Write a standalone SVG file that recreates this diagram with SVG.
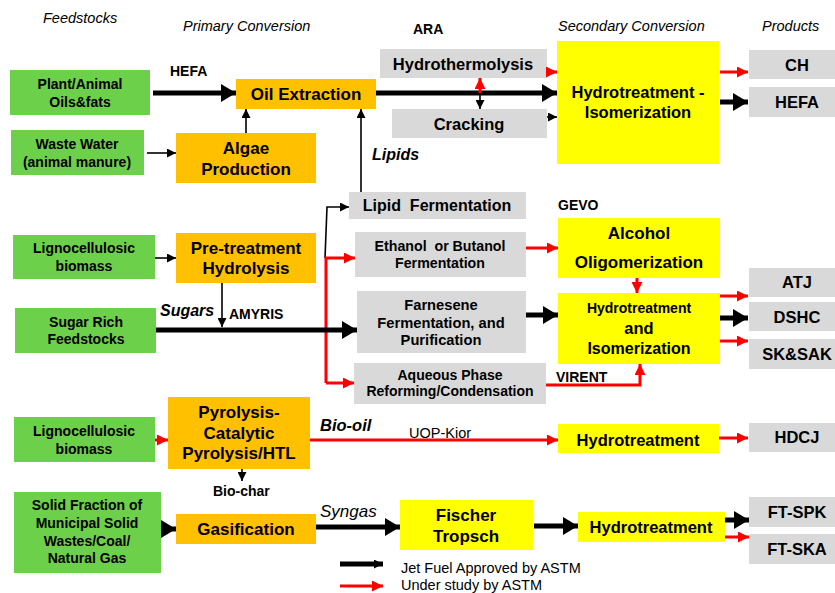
<svg xmlns="http://www.w3.org/2000/svg" width="835" height="593" viewBox="0 0 835 593">
<style>
text{font-family:"Liberation Sans",Arial,sans-serif;fill:#000}
.b{font-weight:bold}
.c{text-anchor:middle;font-weight:bold}
.hd{font-style:italic;font-size:14.5px}
.g{fill:#6dd04a}
.o{fill:#ffc000}
.y{fill:#ffff00}
.gr{fill:#d9d9d9}
.tk{stroke:#000;stroke-width:5;fill:none}
.tn{stroke:#000;stroke-width:1.6;fill:none}
.rd{stroke:#ff0000;stroke-width:3;fill:none}
</style>
<defs>
<marker id="bk" markerUnits="userSpaceOnUse" markerWidth="15" markerHeight="18" refX="15" refY="9" orient="auto"><path d="M0,0 L15,9 L0,18 z" fill="#000"/></marker>
<marker id="bs" markerUnits="userSpaceOnUse" markerWidth="9" markerHeight="9" refX="9" refY="4.5" orient="auto"><path d="M0,0 L9,4.5 L0,9 z" fill="#000"/></marker>
<marker id="rs" markerUnits="userSpaceOnUse" markerWidth="11" markerHeight="11" refX="11" refY="5.5" orient="auto"><path d="M0,0 L11,5.5 L0,11 z" fill="#ff0000"/></marker>
</defs>
<rect width="835" height="593" fill="#fff"/>

<!-- headers -->
<text class="hd" x="43" y="23">Feedstocks</text>
<text class="hd" x="183" y="31">Primary Conversion</text>
<text class="hd" x="558" y="31">Secondary Conversion</text>
<text class="hd" x="762" y="31">Products</text>

<!-- labels -->
<g id="labels" font-size="14">
<text class="b" x="413" y="34">ARA</text>
<text class="b" x="170" y="76">HEFA</text>
<text class="b" x="372" y="160" font-style="italic" font-size="16">Lipids</text>
<text class="b" x="558" y="210">GEVO</text>
<text class="b" x="160" y="316" font-style="italic" font-size="16">Sugars</text>
<text class="b" x="229" y="319">AMYRIS</text>
<text class="b" x="556" y="382">VIRENT</text>
<text class="b" x="320" y="431" font-style="italic" font-size="16.5">Bio-oil</text>
<text x="409" y="438" font-size="14.5">UOP-Kior</text>
<text class="b" x="213" y="496">Bio-char</text>
<text x="320" y="517" font-style="italic" font-size="17">Syngas</text>
<text x="401" y="573" font-size="14.5">Jet Fuel Approved by ASTM</text>
<text x="401" y="590" font-size="14.5">Under study by ASTM</text>
</g>

<!-- feedstocks -->
<g id="plant" font-size="14"><rect class="g" x="10" y="70" width="140" height="45"/><text class="c" x="80" y="89">Plant/Animal</text><text class="c" x="80" y="107">Oils&amp;fats</text></g>
<g id="waste" font-size="14"><rect class="g" x="11" y="130" width="133" height="45"/><text class="c" x="77" y="149">Waste Water</text><text class="c" x="77" y="167">(animal manure)</text></g>
<g id="ligno1" font-size="14"><rect class="g" x="13" y="235" width="142" height="44"/><text class="c" x="84" y="253">Lignocellulosic</text><text class="c" x="84" y="271">biomass</text></g>
<g id="sugar" font-size="14"><rect class="g" x="15" y="308" width="141" height="45"/><text class="c" x="86" y="327">Sugar Rich</text><text class="c" x="86" y="344">Feedstocks</text></g>
<g id="ligno2" font-size="14"><rect class="g" x="14" y="417" width="141" height="45"/><text class="c" x="84" y="436">Lignocellulosic</text><text class="c" x="84" y="454">biomass</text></g>
<g id="solid" font-size="14"><rect class="g" x="14" y="492" width="147" height="81"/><text class="c" x="87" y="510">Solid Fraction of</text><text class="c" x="87" y="528">Municipal Solid</text><text class="c" x="87" y="546">Wastes/Coal/</text><text class="c" x="87" y="563">Natural Gas</text></g>

<!-- primary -->
<g id="oilext" font-size="17"><rect class="o" x="236" y="79" width="140" height="30"/><text class="c" x="306" y="100">Oil Extraction</text></g>
<g id="algae" font-size="17"><rect class="o" x="176" y="133" width="140" height="50"/><text class="c" x="246" y="154">Algae</text><text class="c" x="246" y="175">Production</text></g>
<g id="pretreat" font-size="17"><rect class="o" x="176" y="233" width="140" height="50"/><text class="c" x="246" y="254">Pre-treatment</text><text class="c" x="246" y="274">Hydrolysis</text></g>
<g id="pyro" font-size="17"><rect class="o" x="168" y="397" width="142" height="72"/><text class="c" x="239" y="418">Pyrolysis-</text><text class="c" x="239" y="439">Catalytic</text><text class="c" x="239" y="459">Pyrolysis/HTL</text></g>
<g id="gasif" font-size="17"><rect class="o" x="176" y="514" width="140" height="30"/><text class="c" x="246" y="535">Gasification</text></g>

<!-- gray intermediates -->
<g id="hydrothermo" font-size="16.5"><rect class="gr" x="380" y="49" width="167" height="29"/><text class="c" x="463" y="70">Hydrothermolysis</text></g>
<g id="cracking" font-size="16.5"><rect class="gr" x="392" y="109" width="155" height="29"/><text class="c" x="469" y="130">Cracking</text></g>
<g id="lipidferm" font-size="16"><rect class="gr" x="349" y="192" width="177" height="27"/><text class="c" x="437" y="211" xml:space="preserve">Lipid  Fermentation</text></g>
<g id="ethanol" font-size="14.2"><rect class="gr" x="355" y="232" width="171" height="45"/><text class="c" x="440" y="251" xml:space="preserve">Ethanol  or Butanol</text><text class="c" x="440" y="268">Fermentation</text></g>
<g id="farnesene" font-size="14.7"><rect class="gr" x="357" y="291" width="169" height="62"/><text class="c" x="441" y="310">Farnesene</text><text class="c" x="441" y="328">Fermentation, and</text><text class="c" x="441" y="345">Purification</text></g>
<g id="aqueous" font-size="14"><rect class="gr" x="354" y="363" width="192" height="41"/><text class="c" x="450" y="380">Aqueous Phase</text><text class="c" x="450" y="396">Reforming/Condensation</text></g>

<!-- secondary -->
<g id="hi" font-size="16.5"><rect class="y" x="557" y="41" width="162" height="123"/><text class="c" x="638" y="98">Hydrotreatment -</text><text class="c" x="638" y="118">Isomerization</text></g>
<g id="alcohol" font-size="17"><rect class="y" x="558" y="218" width="162" height="60"/><text class="c" x="639" y="239">Alcohol</text><text class="c" x="639" y="268">Oligomerization</text></g>
<g id="hai"><rect class="y" x="558" y="293" width="162" height="71"/><text class="c" x="639" y="313" font-size="14">Hydrotreatment</text><text class="c" x="639" y="334" font-size="16.5">and</text><text class="c" x="639" y="354" font-size="16">Isomerization</text></g>
<g id="ht1" font-size="16.5"><rect class="y" x="558" y="424" width="161" height="29"/><text class="c" x="638" y="446">Hydrotreatment</text></g>
<g id="fischer" font-size="17"><rect class="y" x="400" y="500" width="133" height="50"/><text class="c" x="466" y="521">Fischer</text><text class="c" x="466" y="542">Tropsch</text></g>
<g id="ht2" font-size="16.5"><rect class="y" x="578" y="512" width="147" height="30"/><text class="c" x="651" y="533">Hydrotreatment</text></g>

<!-- products -->
<g id="p-ch" font-size="16.5"><rect class="gr" x="749" y="50" width="86" height="29"/><text class="c" x="797" y="71">CH</text></g>
<g id="p-hefa" font-size="16.5"><rect class="gr" x="749" y="87" width="86" height="30"/><text class="c" x="797" y="108">HEFA</text></g>
<g id="p-atj" font-size="16.5"><rect class="gr" x="749" y="268" width="86" height="29"/><text class="c" x="797" y="288">ATJ</text></g>
<g id="p-dshc" font-size="16.5"><rect class="gr" x="749" y="302" width="86" height="29"/><text class="c" x="797" y="323">DSHC</text></g>
<g id="p-sk" font-size="16.5"><rect class="gr" x="749" y="339" width="86" height="30"/><text class="c" x="797" y="360">SK&amp;SAK</text></g>
<g id="p-hdcj" font-size="16.5"><rect class="gr" x="749" y="423" width="86" height="29"/><text class="c" x="797" y="443">HDCJ</text></g>
<g id="p-ftspk" font-size="16.5"><rect class="gr" x="749" y="497" width="86" height="30"/><text class="c" x="797" y="518">FT-SPK</text></g>
<g id="p-ftska" font-size="16.5"><rect class="gr" x="749" y="534" width="86" height="30"/><text class="c" x="797" y="555">FT-SKA</text></g>

<!-- connectors -->
<g id="connectors">
<path class="tk" d="M153,93 H236" marker-end="url(#bk)"/>
<path class="tn" d="M147,153 H176" marker-end="url(#bs)"/>
<path class="tn" d="M246,133 V109" marker-end="url(#bs)"/>
<path class="tk" d="M376,93 H557" marker-end="url(#bk)"/>
<path class="tn" d="M480,93 V109" stroke-width="2" marker-end="url(#bs)"/>
<path class="rd" d="M480,93 V78" stroke-width="2" marker-end="url(#rs)"/>
<path class="rd" d="M547,72 H557" marker-end="url(#rs)"/>
<path class="tn" d="M547,117 H557" stroke-width="2" marker-end="url(#bs)"/>
<path class="tn" d="M361,192 V109" marker-end="url(#bs)"/>
<path class="rd" d="M720,72 H748" marker-end="url(#rs)"/>
<path class="tk" d="M720,102 H748" marker-end="url(#bk)"/>

<path class="tn" d="M155,258 H176" marker-end="url(#bs)"/>
<path class="tn" d="M222,283 V327" marker-end="url(#bs)"/>
<path class="tn" d="M325,258 L327,207 H349" marker-end="url(#bs)"/>
<path class="rd" d="M326,383 V258 H355" marker-end="url(#rs)"/>
<path class="rd" d="M326,383 H354" marker-end="url(#rs)"/>
<path class="tk" d="M156,330 H357" marker-end="url(#bk)"/>
<path class="rd" d="M526,248 H558" marker-end="url(#rs)"/>
<path class="rd" d="M637,278 V293" stroke-width="2" marker-end="url(#rs)"/>
<path class="tk" d="M526,315 H558" marker-end="url(#bk)"/>
<path class="rd" d="M546,385 H640 V364" marker-end="url(#rs)"/>
<path class="rd" d="M720,296 H748" marker-end="url(#rs)"/>
<path class="tk" d="M720,318 H748" marker-end="url(#bk)"/>
<path class="rd" d="M720,341 H748" marker-end="url(#rs)"/>

<path class="rd" d="M155,440 H168" marker-end="url(#rs)"/>
<path class="rd" d="M310,440 H558" marker-end="url(#rs)"/>
<path class="tn" d="M242,469 V481" marker-end="url(#bs)"/>
<path class="rd" d="M719,438 H748" marker-end="url(#rs)"/>

<path class="tk" d="M163,529 H176" marker-end="url(#bk)"/>
<path class="tk" d="M316,527 H400" marker-end="url(#bk)"/>
<path class="tk" d="M534,526 H578" marker-end="url(#bk)"/>
<path class="tk" d="M725,520 H749" marker-end="url(#bk)"/>
<path class="rd" d="M725,537 H749" marker-end="url(#rs)"/>

<path class="tk" d="M340,564 H383" stroke-width="3" marker-end="url(#bs)"/>
<path class="rd" d="M340,586 H383" marker-end="url(#rs)"/>
</g>
</svg>
